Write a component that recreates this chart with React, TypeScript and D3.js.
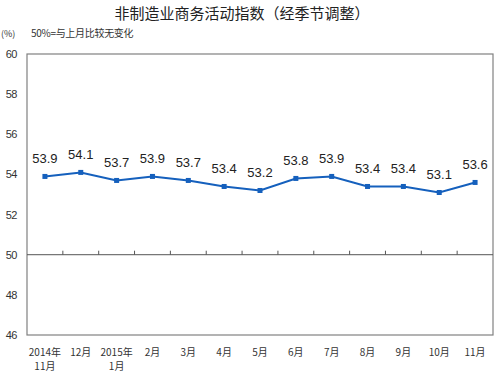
import React from "react";
import * as d3 from "d3";

const categories = ["2014年\n11月", "12月", "2015年\n1月", "2月", "3月", "4月", "5月", "6月", "7月", "8月", "9月", "10月", "11月"];
const values = [53.9, 54.1, 53.7, 53.9, 53.7, 53.4, 53.2, 53.8, 53.9, 53.4, 53.4, 53.1, 53.6];
const yTicks = [46, 48, 50, 52, 54, 56, 58, 60];

export default function App() {
  const W = 500, H = 374;
  const left = 27, right = 493, top = 54, bottom = 335;
  const x = d3.scaleBand<number>().domain(d3.range(categories.length)).range([left, right]);
  const y = d3.scaleLinear().domain([46, 60]).range([bottom, top]);
  const line = d3.line<number>().x((_, i) => x(i)! + x.bandwidth() / 2).y((d) => y(d));
  const cjk = "'Noto Sans CJK SC', sans-serif";
  const y50 = y(50);
  return (
    <svg width={W} height={H} style={{ position: "absolute", left: 0, top: 0, background: "#fff" }}>
      <text x={242} y={19} textAnchor="middle" fontFamily={cjk} fontSize={15} fill="#222">非制造业商务活动指数（经季节调整）</text>
      <text x={1} y={37} fontFamily={cjk} fontSize={9} fill="#333">(%)</text>
      <text x={31} y={37} fontFamily={cjk} fontSize={10} fill="#333" letterSpacing={-0.3}>50%=与上月比较无变化</text>
      <rect x={left} y={top} width={right - left} height={bottom - top} fill="none" stroke="#808080" strokeWidth={1.2} />
      <line x1={left} x2={right} y1={y50} y2={y50} stroke="#555" strokeWidth={1} />
      {d3.range(1, categories.length).map((i) => (
        <line key={i} x1={x(i)!} x2={x(i)!} y1={y50} y2={y50 - 4} stroke="#555" strokeWidth={1} />
      ))}
      {yTicks.map((t) => (
        <text key={t} x={17} y={y(t) + 4} textAnchor="end" fontFamily="'Liberation Sans Narrow', 'Liberation Sans', sans-serif" fontSize={11} fill="#333" letterSpacing={-0.5}>{t}</text>
      ))}
      <path d={line(values) || ""} fill="none" stroke="#1560BD" strokeWidth={2} />
      {values.map((v, i) => {
        const cx = x(i)! + x.bandwidth() / 2;
        return (
          <g key={i}>
            <rect x={cx - 2.5} y={y(v) - 2.5} width={5} height={5} fill="#1560BD" />
            <text x={cx} y={y(v) - 13} textAnchor="middle" fontFamily="'Liberation Sans', Arial, sans-serif" fontSize={13} fill="#222">{v.toFixed(1)}</text>
          </g>
        );
      })}
      {categories.map((c, i) => {
        const cx = x(i)! + x.bandwidth() / 2;
        return c.split("\n").map((s, j) => (
          <text key={i + "-" + j} x={cx} y={356 + j * 14} textAnchor="middle" fontFamily={cjk} fontSize={10} fill="#333">{s}</text>
        ));
      })}
    </svg>
  );
}
